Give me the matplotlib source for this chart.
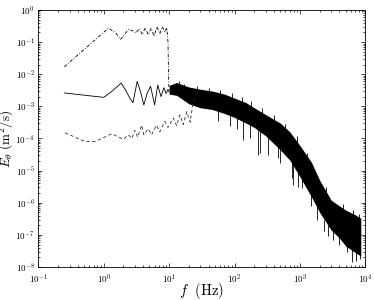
"""
Espectro de energia E_theta(f) em escala log-log.
"""

import numpy as np
import matplotlib
matplotlib.use("Agg")
import matplotlib.pyplot as plt
from matplotlib.ticker import LogLocator, NullFormatter, FuncFormatter

# ── Dados ──────────────────────────────────────────────────
# traço-ponto (baixas frequências)
dd_f = [0.25, 1.18, 1.5, 1.82, 2.4, 2.8, 3.1, 3.5, 3.9, 4.3, 4.8, 5.3,
        5.9, 6.5, 7.2, 7.9, 8.6, 9.2, 9.6, 9.8, 9.9]
dd_E = [0.017, 0.27, 0.2, 0.122, 0.25, 0.22, 0.19, 0.26, 0.17, 0.28, 0.17,
        0.27, 0.15, 0.3, 0.18, 0.3, 0.2, 0.28, 0.1, 0.01, 4e-3]

# linha contínua (baixas frequências)
sol_f = [0.25, 1.0, 1.3, 1.85, 2.2, 2.5, 2.8, 3.25, 3.7, 4.1, 4.6, 5.2,
         6.0, 6.7, 7.5, 8.3, 9.0, 9.6, 10.0]
sol_E = [2.6e-3, 1.9e-3, 2.8e-3, 5.3e-3, 3.0e-3, 1.8e-3, 1.3e-3, 6.0e-3,
         2.6e-3, 1.1e-3, 2.5e-3, 4.2e-3, 1.1e-3, 4.6e-3, 2.0e-3, 3.8e-3,
         2.5e-3, 3.4e-3, 2.8e-3]

# tracejada (baixas frequências)
dsh_f = [0.256, 0.52, 0.74, 1.33, 1.99, 2.37, 2.7, 3.0, 3.3, 3.8, 4.1, 4.8,
         5.4, 6.4, 7.2, 8.6, 9.6, 11.6, 13.0, 14.6, 16.4, 18.6, 21.0, 23.0,
         25.0]
dsh_E = [1.5e-4, 8e-5, 8e-5, 1.4e-4, 9.4e-5, 1.3e-4, 1.0e-4, 1.8e-4, 1.1e-4,
         2.6e-4, 1.3e-4, 2.0e-4, 1.3e-4, 2.6e-4, 1.6e-4, 3.4e-4, 2.2e-4,
         4.3e-4, 2.5e-4, 5.4e-4, 2.7e-4, 6.8e-4, 3.2e-4, 1.2e-3, 2.0e-3]

# faixa ruidosa (envoltórias superior e inferior)
band_f = [10, 13, 20, 30, 45, 70, 100, 150, 200, 300, 500, 700, 1000, 1500,
          2000, 3000, 4000, 5000, 7000, 8500]
band_hi = [4.5e-3, 5.5e-3, 4.0e-3, 3.4e-3, 3.0e-3, 2.4e-3, 1.8e-3, 1.3e-3,
           9e-4, 5.5e-4, 3.0e-4, 1.6e-4, 6e-5, 1.8e-5, 5e-6, 1.2e-6, 8e-7,
           5.9e-7, 4.2e-7, 3.3e-7]
band_lo = [2.4e-3, 2.2e-3, 1.2e-3, 9e-4, 8e-4, 6e-4, 4.5e-4, 3e-4, 2.2e-4,
           1.2e-4, 4.4e-5, 2.1e-5, 6.4e-6, 1.5e-6, 5e-7, 1.4e-7, 8e-8,
           4.5e-8, 2.8e-8, 2.2e-8]

# picos para baixo na faixa
dn_f = [55, 85, 110, 136, 175, 231, 245, 329, 460, 497, 750, 780, 946,
        1070, 1500, 1800, 2300, 2700, 3240, 4000, 5200, 6170, 7200, 8300]
dn_top = [9e-4, 7e-4, 5e-4, 4e-4, 3e-4, 1.8e-4, 1.7e-4, 1.2e-4, 6e-5, 5e-5,
          2.5e-5, 2.2e-5, 1e-5, 8e-6, 2e-6, 1e-6, 3e-7, 2e-7, 1.5e-7,
          1e-7, 6e-8, 4e-8, 3e-8, 3e-8]
dn_bot = [3.5e-4, 2.5e-4, 2e-4, 9e-5, 1e-4, 3e-5, 3.5e-5, 3e-5, 2.4e-5,
          1.7e-5, 5.7e-6, 3.5e-6, 3.1e-6, 2.8e-6, 8e-7, 3e-7, 1.3e-7, 9e-8,
          6.8e-8, 5e-8, 3e-8, 1.4e-8, 1.5e-8, 1.8e-8]

# picos para cima na faixa
up_f = [14, 17, 27, 40, 60, 90, 130, 180, 260, 400, 600, 900, 1300, 2500,
        4500, 6500, 8000]
up_bot = [4e-3, 3.5e-3, 3e-3, 2.7e-3, 2.2e-3, 1.7e-3, 1.2e-3, 9e-4, 6e-4,
          3e-4, 1.5e-4, 6e-5, 1.8e-5, 1.5e-6, 5e-7, 3.5e-7, 2.5e-7]
up_top = [6.3e-3, 5e-3, 4.4e-3, 3.8e-3, 3.2e-3, 2.6e-3, 2e-3, 1.5e-3, 9e-4,
          5.5e-4, 2.8e-4, 1.2e-4, 3.5e-5, 3e-6, 9e-7, 6e-7, 4.5e-7]

# ── Estilo ─────────────────────────────────────────────────
plt.rcParams["font.family"] = ["Liberation Sans", "DejaVu Sans"]
plt.rcParams["mathtext.fontset"] = "cm"

fig = plt.figure(figsize=(3.74, 3.0), dpi=100)
ax = fig.add_axes([0.1024, 0.11, 0.8746, 0.857])

lw = 0.6
ax.fill_between(band_f, band_lo, band_hi, color="black", linewidth=0)
ax.vlines(dn_f, dn_bot, dn_top, color="black", linewidth=0.6)
ax.vlines(up_f, up_bot, up_top, color="black", linewidth=0.6)
ax.plot(sol_f, sol_E, color="black", linewidth=lw)
ax.plot(dsh_f, dsh_E, color="#333333", linewidth=lw, linestyle=(0, (4, 3)))
ax.plot(dd_f, dd_E, color="black", linewidth=lw, linestyle=(0, (4, 2, 1, 2)))

ax.set_xscale("log")
ax.set_yscale("log")
ax.set_xlim(1e-1, 1e4)
ax.set_ylim(1e-8, 1e0)

# ── Eixos ──────────────────────────────────────────────────
fmt = FuncFormatter(lambda v, _: r"$\mathsf{10^{%d}}$" % round(np.log10(v)))
for eixo in (ax.xaxis, ax.yaxis):
    eixo.set_major_locator(LogLocator(base=10, numticks=20))
    eixo.set_minor_locator(LogLocator(base=10, subs=np.arange(2, 10), numticks=100))
    eixo.set_major_formatter(fmt)
    eixo.set_minor_formatter(NullFormatter())

ax.tick_params(which="both", direction="in", top=True, right=True,
               labelsize=6.5, width=0.5)
ax.tick_params(which="major", length=3)
ax.tick_params(which="minor", length=1.6)
ax.tick_params(axis="x", pad=4)
ax.tick_params(axis="y", pad=2.5)
for s in ax.spines.values():
    s.set_linewidth(0.6)

ax.set_xlabel(r"$f\ \ (\mathrm{Hz})$", fontsize=10.5)
ax.set_ylabel(r"$E_\theta\ (\mathrm{m}^2/\mathrm{s})$", fontsize=9.5)
ax.xaxis.set_label_coords(0.5, -0.056)
ax.yaxis.set_label_coords(-0.067, 0.5)

fig.savefig("out.png", dpi=100)
plt.close(fig)
